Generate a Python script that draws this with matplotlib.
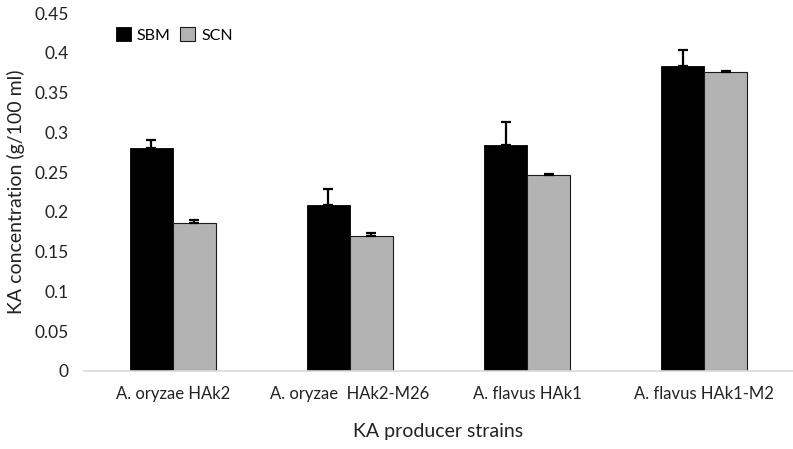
import matplotlib
matplotlib.use('Agg')
import matplotlib.pyplot as plt
import numpy as np

plt.rcParams['font.family'] = ['Lato', 'DejaVu Sans']

strains = ['A. oryzae HAk2', 'A. oryzae  HAk2-M26', 'A. flavus HAk1', 'A. flavus HAk1-M2']
sbm = [0.280, 0.208, 0.284, 0.384]
sbm_err = [0.010, 0.021, 0.029, 0.020]
scn = [0.186, 0.170, 0.246, 0.376]
scn_err = [0.004, 0.003, 0.001, 0.001]

fig = plt.figure(figsize=(7.93, 4.49), dpi=100)
ax = fig.add_axes([0.106, 0.174, 0.894, 0.797])

x = np.arange(len(strains))
w = 0.243

ax.bar(x - w / 2, sbm, w, color='black', edgecolor='black', linewidth=0.6, label='SBM')
ax.bar(x + w / 2, scn, w, color='#b3b3b3', edgecolor='#1a1a1a', linewidth=0.8, label='SCN')

# only upper error bars, like excel
ax.errorbar(x - w / 2, sbm, yerr=[np.zeros(4), sbm_err], fmt='none', ecolor='black',
            elinewidth=1.6, capsize=3.5, capthick=1.6)
ax.errorbar(x + w / 2, scn, yerr=[np.zeros(4), scn_err], fmt='none', ecolor='black',
            elinewidth=1.6, capsize=3.5, capthick=1.6)

ax.set_xlim(-0.5, 3.5)
ax.set_ylim(0, 0.45)
ax.set_yticks(np.arange(0, 0.46, 0.05))
ax.set_yticklabels(['0', '0.05', '0.1', '0.15', '0.2', '0.25', '0.3', '0.35', '0.4', '0.45'])
ax.set_xticks(x)
ax.set_xticklabels(strains)
ax.tick_params(axis='both', length=0, colors='#222222')
ax.tick_params(axis='y', pad=11, labelsize=12.5)
ax.tick_params(axis='x', pad=11, labelsize=12)

for s in ['top', 'right', 'left']:
    ax.spines[s].set_visible(False)
ax.spines['bottom'].set_color('#d9d9d9')
ax.spines['bottom'].set_linewidth(1.2)

ax.set_xlabel('KA producer strains', fontsize=14, labelpad=15, color='#222222')
ax.set_ylabel('KA concentration (g/100 ml)', fontsize=14, labelpad=7, color='#222222')

ax.legend(loc='upper left', bbox_to_anchor=(0.025, 1.0), ncol=2, frameon=False, fontsize=11.5,
          handlelength=0.9, handleheight=0.9, handletextpad=0.4, columnspacing=0.6)

fig.savefig('out.png', dpi=100)
